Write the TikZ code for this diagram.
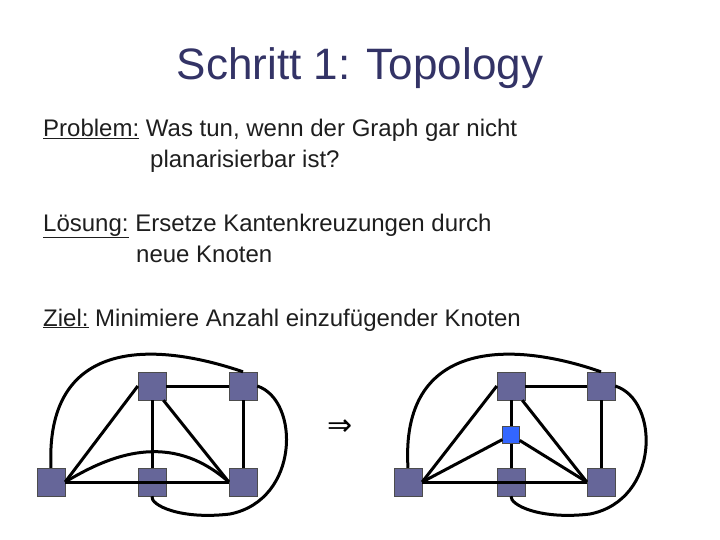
\documentclass[tikz,border=0pt]{standalone}
\usepackage{fontspec}
\setmainfont{Liberation Sans}
\newfontfamily\symf{DejaVu Sans}
\begin{document}
\begin{tikzpicture}[x=1pt,y=-1pt,
 vx/.style={draw=black!70,fill={rgb,255:red,102;green,102;blue,153},minimum size=28pt,inner sep=0pt},
 bx/.style={draw=black!70,fill={rgb,255:red,51;green,102;blue,255},minimum size=17pt,inner sep=0pt},
 ed/.style={line width=3pt},
 tx/.style={anchor=base west,inner sep=0pt,font=\fontsize{24}{28}\selectfont,text={rgb,255:red,30;green,30;blue,30}}]
\useasboundingbox (0,0) rectangle (720,540);
\node[font=\fontsize{44}{50}\selectfont,text={rgb,255:red,51;green,51;blue,102}] (title) at (360,68) {Schritt 1: Topology};
\node[tx] (l1) at (43,137) {\underline{Problem:} Was tun, wenn der Graph gar nicht};
\node[tx] (l2) at (150,168) {planarisierbar ist?};
\node[tx] (l3) at (43,231) {\underline{Lösung:} Ersetze Kantenkreuzungen durch};
\node[tx] (l4) at (136,262) {neue Knoten};
\node[tx] (l5) at (43,326) {\underline{Ziel:} Minimiere Anzahl einzufügender Knoten};
\node[font=\symf\fontsize{30}{32}\selectfont] (arr) at (340,428) {⇒};
% left graph
\begin{scope}[every node/.style={vx}]
\node (A) at (51,482) {}; \node (B) at (152,386) {}; \node (C) at (243,386) {};
\node (D) at (152,482) {}; \node (E) at (243,482) {};
\end{scope}
\begin{scope}[ed]
\draw (A.east) -- (B.west); \draw (A.east) -- (D); \draw (A.east) -- (E.west);
\draw (A.east) .. controls (110,455) and (170,430) .. (E.west);
\draw (B) -- (C); \draw (B) -- (D); \draw (B) -- (E.west); \draw (C) -- (E); \draw (D) -- (E);
\draw (A.north) .. controls (45,340) and (150,340) .. (C.north);
\draw (C.east) .. controls (300,400) and (300,500) .. (230,514) .. controls (180,520) and (150,505) .. (D.south);
\end{scope}
% right graph
\begin{scope}[every node/.style={vx}]
\node (A2) at (408,482) {}; \node (B2) at (511,386) {}; \node (C2) at (601,386) {};
\node (D2) at (511,482) {}; \node (E2) at (601,482) {};
\end{scope}
\node[bx] (N) at (511,435) {};
\begin{scope}[ed]
\draw (A2.east) -- (B2.west); \draw (A2.east) -- (D2); \draw (A2.east) -- (E2.west);
\draw (A2.east) -- (N); \draw (N) -- (E2.west);
\draw (B2) -- (C2); \draw (B2) -- (N); \draw (N) -- (D2); \draw (B2) -- (E2.west); \draw (C2) -- (E2); \draw (D2) -- (E2);
\draw (A2.north) .. controls (400,340) and (510,340) .. (C2.north);
\draw (C2.east) .. controls (660,400) and (660,500) .. (590,514) .. controls (540,520) and (510,505) .. (D2.south);
\end{scope}
\end{tikzpicture}
\end{document}
